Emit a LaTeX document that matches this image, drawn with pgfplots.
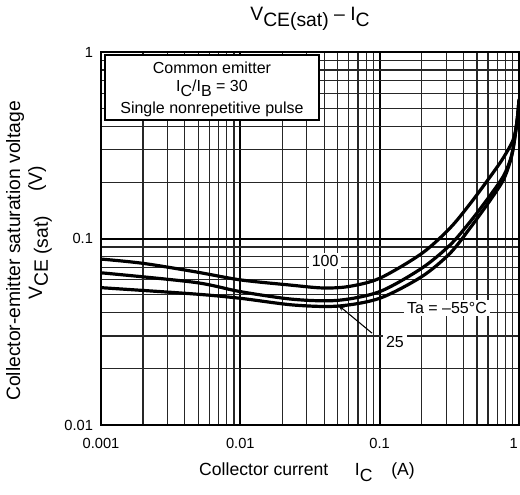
\documentclass[border=0pt]{standalone}
\usepackage{pgfplots}
\pgfplotsset{compat=1.18}
\usepackage{fontspec}
\setmainfont{Liberation Sans}
\usetikzlibrary{arrows.meta}
\newcommand{\sub}[1]{\raisebox{-0.3em}{#1}}
\begin{document}
\begin{tikzpicture}
\begin{axis}[
  name=ax,
  scale only axis,
  width=313.5pt, height=279.75pt,
  xmode=log, ymode=log,
  xmin=0.001, xmax=1, ymin=0.01, ymax=1,
  xtick={0.001,0.01,0.1,1}, xticklabels={0.001,0.01,0.1,\hspace*{-8pt}1},
  ytick={0.01,0.1,1}, yticklabels={0.01,0.1,1},
  major tick length=0pt, minor tick length=0pt,
  xmajorgrids, ymajorgrids, xminorgrids, yminorgrids,
  major grid style={line width=1.5pt, black},
  minor grid style={line width=0.9pt, black!85},
  axis line style={line width=1.8pt},
  ticklabel style={font=\fontsize{11}{13}\selectfont},
  xticklabel style={anchor=center, yshift=-13.5pt},
  yticklabel style={anchor=east, xshift=-2.5pt},
  title={V\sub{CE(sat)} -- I\sub{C}},
  title style={font=\fontsize{14.5}{16}\selectfont, at={(axis description cs:0.5,1.062)}, anchor=base},
  xlabel={Collector current\hspace{20pt}I\sub{C}\hspace{14pt}(A)},
  xlabel style={font=\fontsize{13.2}{15}\selectfont, at={(axis description cs:0.4928,-0.1367)}, anchor=base},
  ylabel={Collector-emitter saturation voltage},
  ylabel style={font=\fontsize{14.5}{16}\selectfont, at={(axis description cs:-0.2057,0.4665)}, anchor=center},
]
% Ta = 100
\addplot[line width=2.4pt, black, smooth] coordinates {
(0.001,0.0776) (0.002,0.0736) (0.0047,0.0664) (0.01,0.0600) (0.0227,0.0563)
(0.039,0.0543) (0.06,0.0553) (0.1,0.0612) (0.2,0.0830) (0.32,0.1138)
(0.45,0.155) (0.62,0.214) (0.77,0.27) (0.91,0.34) (0.97,0.43) (1.0,0.56)
};
% Ta = 25
\addplot[line width=2.4pt, black, smooth] coordinates {
(0.001,0.0655) (0.0047,0.0582) (0.01,0.0519) (0.024,0.0472) (0.05,0.0466)
(0.1,0.0519) (0.2,0.0692) (0.32,0.0923) (0.45,0.124) (0.62,0.17)
(0.77,0.215) (0.86,0.26) (0.91,0.31) (0.97,0.43) (1.0,0.55)
};
% Ta = -55
\addplot[line width=2.4pt, black, smooth] coordinates {
(0.001,0.0545) (0.0047,0.0504) (0.01,0.0478) (0.024,0.0440) (0.05,0.0434)
(0.1,0.0478) (0.2,0.0624) (0.32,0.0833) (0.45,0.115) (0.62,0.16)
(0.77,0.205) (0.86,0.255) (0.91,0.305) (0.97,0.43) (1.0,0.55)
};
% condition box
\draw[line width=0.9pt, fill=white] (rel axis cs:0.0096,0.8177) rectangle (rel axis cs:0.5215,0.992);
\node[font=\fontsize{12}{14}\selectfont] at (rel axis cs:0.2655,0.957) {Common emitter};
\node[font=\fontsize{12}{14}\selectfont] at (rel axis cs:0.2655,0.9035) {I\sub{C}/I\sub{B} = 30};
\node[font=\fontsize{12}{14}\selectfont] at (rel axis cs:0.2655,0.847) {Single nonrepetitive pulse};
% curve labels
\node[fill=white, inner sep=2pt, font=\fontsize{12}{14}\selectfont] at (axis cs:0.0406,0.0757) {100};
\node[fill=white, inner sep=2pt, font=\fontsize{12}{14}\selectfont] at (axis cs:0.304,0.0424) {Ta = –55°C};
\node[fill=white, inner sep=2pt, font=\fontsize{12}{14}\selectfont] at (axis cs:0.1288,0.0279) {25};
\draw[line width=0.8pt, -{Stealth[length=5pt,width=3.5pt]}] (axis cs:0.0881,0.0311) -- (axis cs:0.0503,0.044);
\end{axis}
% second line of the y label
\node[rotate=90, font=\fontsize{14.5}{16}\selectfont] at ([shift={(-45.75pt,144pt)}]ax.south west) {V\sub{CE (sat)}\hspace{18pt}(V)};
\pgfresetboundingbox
\path ([shift={(-75.75pt,-52.5pt)}]ax.south west) rectangle ([shift={(0.75pt,39pt)}]ax.north east);
\end{tikzpicture}
\end{document}
